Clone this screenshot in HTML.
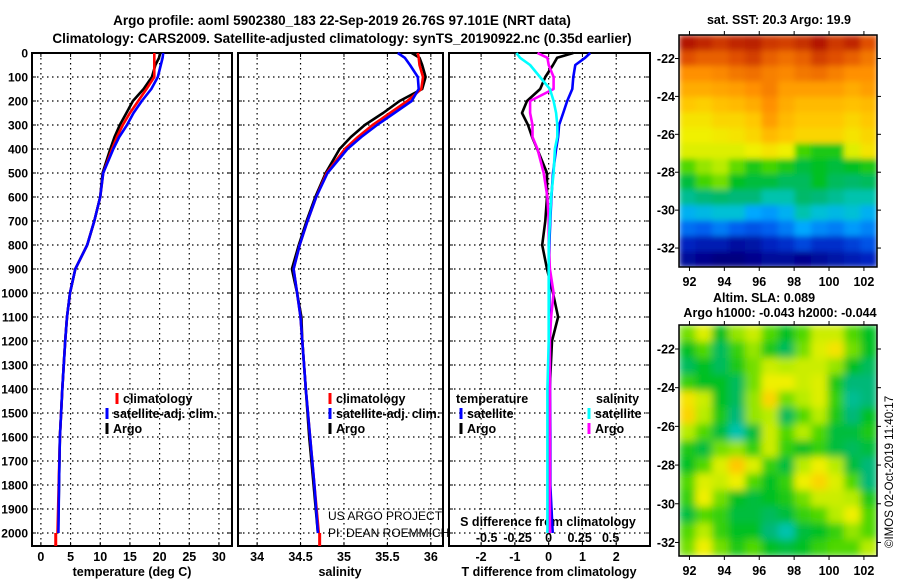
<!DOCTYPE html>
<html><head><meta charset="utf-8">
<style>
html,body{margin:0;padding:0;background:#fff;}
svg{display:block;font-family:"Liberation Sans",Arial,sans-serif;}
.b{font-weight:bold;}
</style></head>
<body>
<svg id="fig" width="900" height="580" viewBox="0 0 900 580" xmlns="http://www.w3.org/2000/svg">
<defs>
<filter id="blurT" x="0" y="0" width="1" height="1"><feGaussianBlur stdDeviation="2.8" edgeMode="duplicate"/></filter>
<filter id="blurB" x="0" y="0" width="1" height="1"><feGaussianBlur stdDeviation="4" edgeMode="duplicate"/></filter>
<clipPath id="clipT"><rect x="679" y="35" width="198" height="232"/></clipPath>
<clipPath id="clipB"><rect x="679" y="325" width="198" height="231"/></clipPath>
</defs>
<text class="b" x="342" y="25" font-size="13.5" text-anchor="middle">Argo profile: aoml 5902380_183 22-Sep-2019 26.76S 97.101E (NRT data)</text>
<text class="b" x="342" y="43" font-size="13.5" text-anchor="middle">Climatology: CARS2009. Satellite-adjusted climatology: synTS_20190922.nc (0.35d earlier)</text>
<text class="b" x="779" y="24" font-size="12.5" text-anchor="middle">sat. SST: 20.3 Argo: 19.9</text>
<text class="b" x="764" y="302" font-size="12.5" text-anchor="middle">Altim. SLA: 0.089</text>
<text class="b" x="780" y="317" font-size="12.5" text-anchor="middle">Argo h1000: -0.043 h2000: -0.044</text>
<text x="893" y="548" font-size="11.5" transform="rotate(-90 893 548)">©IMOS 02-Oct-2019 11:40:17</text>
<g id="g"></g>
</svg>
<script>
// ---- profile data ----
const depths = [0,20,50,100,150,200,250,300,350,400,500,600,700,800,900,1000,1100,1200,1400,1600,1800,2000];
const tempClim = [19.1,19.1,19.1,19.1,17.8,16.4,15.0,13.8,12.8,12.0,10.5,10.0,9.0,7.8,5.8,4.9,4.4,4.1,3.6,3.2,3.0,2.8];
const tempSat  = [20.6,20.5,20.2,19.7,18.6,17.0,15.6,14.5,13.2,12.2,10.5,10.0,9.0,7.8,5.8,4.9,4.4,4.1,3.6,3.2,3.05,2.95];
const tempArgo = [20.1,19.9,19.3,18.7,17.3,15.5,14.4,13.3,12.4,11.7,10.4,10.0,9.0,7.8,5.8,4.9,4.4,4.1,3.6,3.2,3.05,2.9];
const salClim = [35.85,35.86,35.87,35.91,35.89,35.73,35.53,35.33,35.16,35.01,34.80,34.68,34.58,34.49,34.42,34.46,34.50,34.52,34.56,34.61,34.66,34.71];
const salSat  = [35.62,35.70,35.76,35.85,35.86,35.78,35.58,35.38,35.20,35.04,34.81,34.68,34.58,34.49,34.42,34.46,34.50,34.52,34.56,34.61,34.66,34.70];
const salArgo = [35.78,35.87,35.90,35.94,35.90,35.64,35.45,35.24,35.08,34.95,34.79,34.67,34.57,34.48,34.40,34.46,34.51,34.52,34.56,34.60,34.65,34.70];
// T differences (deg C) and S differences (psu)
const dTSat  = [1.23,1.08,0.79,0.73,0.70,0.55,0.43,0.31,0.28,0.22,0.13,0.08,0.05,0.02,0.02,0.02,0.02,0.03,0.04,0.05,0.05,0.12];
const dTArgo = [0.73,0.25,0.13,-0.10,-0.25,-0.64,-0.79,-0.61,-0.49,-0.34,-0.05,-0.05,-0.10,-0.19,-0.05,0.13,0.28,0.10,0.03,0.02,0.03,0.03];
const dSSat  = [-0.26,-0.23,-0.15,-0.07,0.01,0.04,0.06,0.07,0.07,0.05,0.04,0.02,0.01,0.0,0.0,0.0,0.0,0.0,-0.01,-0.01,-0.01,-0.01];
const dSArgo = [-0.09,-0.01,0.0,0.04,0.04,-0.15,-0.15,-0.13,-0.13,-0.09,-0.04,-0.01,0.0,0.0,0.01,0.04,0.02,0.01,0.01,0.01,0.01,0.01];
const depthTicks = [0,100,200,300,400,500,600,700,800,900,1000,1100,1200,1300,1400,1500,1600,1700,1800,1900,2000];
const tempTicks = [0,5,10,15,20,25,30];
const salTicks = [34,34.5,35,35.5,36];
const salTickLabels = ["34","34.5","35","35.5","36"];
const dTTicks = [-2,-1,0,1,2];
const dSTicks = [-0.5,-0.25,0,0.25,0.5];
const dSTickLabels = ["-0.5","-0.25","0","0.25","0.5"];
// ---- map data (colour index 0..1) ----
const sstLon = [91.4,102.75], sstLat = [-20.76,-33.0];
const sstGrid = [
[.97,.95,.93,.95,.96,.93,.92,.94,.97,.93,.95,.90],
[.90,.88,.88,.90,.92,.88,.86,.88,.92,.90,.88,.85],
[.82,.82,.83,.85,.86,.84,.83,.85,.86,.84,.82,.82],
[.78,.78,.79,.80,.82,.84,.80,.80,.80,.80,.78,.80],
[.74,.73,.75,.76,.78,.82,.78,.76,.76,.76,.75,.76],
[.70,.70,.72,.72,.74,.80,.76,.74,.74,.74,.72,.74],
[.68,.68,.69,.70,.72,.76,.74,.72,.72,.72,.70,.72],
[.66,.66,.66,.66,.68,.70,.68,.55,.52,.52,.66,.70],
[.56,.60,.62,.57,.52,.55,.52,.48,.50,.48,.50,.52],
[.48,.55,.58,.50,.48,.48,.46,.46,.50,.46,.45,.46],
[.42,.44,.45,.44,.44,.40,.40,.45,.44,.42,.40,.40],
[.32,.34,.36,.36,.30,.28,.32,.40,.36,.34,.36,.32],
[.22,.20,.24,.20,.18,.20,.24,.30,.26,.24,.28,.25],
[.10,.08,.08,.05,.06,.10,.12,.16,.12,.12,.15,.18],
[.04,.02,.00,.00,.02,.04,.04,.02,.04,.06,.08,.10]];
const slaLon = [91.4,102.75], slaLat = [-20.76,-32.7];
const slaGrid = [
[.58,.66,.50,.60,.64,.56,.50,.56,.64,.64,.56,.50],
[.50,.56,.46,.54,.60,.52,.46,.58,.66,.70,.58,.50],
[.46,.50,.46,.52,.58,.64,.62,.64,.64,.60,.50,.46],
[.54,.50,.50,.46,.58,.68,.68,.64,.66,.52,.44,.44],
[.70,.64,.50,.46,.60,.72,.58,.62,.66,.54,.42,.44],
[.72,.62,.52,.44,.60,.62,.46,.56,.62,.52,.44,.50],
[.62,.56,.48,.40,.48,.64,.56,.62,.56,.48,.48,.52],
[.52,.48,.58,.60,.54,.64,.54,.50,.54,.48,.46,.48],
[.50,.56,.66,.74,.66,.54,.48,.62,.68,.62,.48,.44],
[.56,.66,.64,.68,.56,.50,.54,.68,.72,.66,.56,.44],
[.54,.68,.58,.50,.48,.50,.52,.58,.64,.64,.62,.52],
[.48,.56,.54,.48,.48,.46,.48,.54,.56,.62,.68,.56],
[.56,.62,.54,.50,.50,.44,.40,.48,.50,.54,.60,.56],
[.58,.68,.58,.52,.56,.50,.48,.50,.54,.56,.56,.62]];
const lonTicks = [92,94,96,98,100,102];
const latTicks = [-22,-24,-26,-28,-30,-32];

const NS="http://www.w3.org/2000/svg";
const G=document.getElementById('g');
function mk(tag,attrs,parent){const e=document.createElementNS(NS,tag);for(const k in attrs)e.setAttribute(k,attrs[k]);(parent||G).appendChild(e);return e;}
function txt(s,x,y,attrs,parent){const e=mk('text',Object.assign({x:x,y:y},attrs||{}),parent);e.textContent=s;return e;}

const TOP=53,BOT=546,dScale=0.24;
const yD=d=>TOP+d*dScale;
const panels=[
 {x0:32,x1:232,min:-1.5,max:32.2,name:'temperature'},
 {x0:238,x1:443,min:33.78,max:36.14,name:'salinity'},
 {x0:449,x1:650,min:-2.95,max:3.0,name:'difference'}];
function xf(p){return v=>p.x0+(v-p.min)/(p.max-p.min)*(p.x1-p.x0);}
const xT=xf(panels[0]),xS=xf(panels[1]),xDT=xf(panels[2]);
const xDS=v=>xDT(0)+v*124;

function gridAndFrame(p,xt,ticks){
 const g=mk('g',{});
 
 
 depthTicks.forEach(d=>{
  const y=yD(d);
  if(d>0){const l=mk('line',{x1:p.x0,x2:p.x1,y1:y,y2:y,stroke:'#000','stroke-width':1.2,'stroke-dasharray':'1.5,3.5'},g);
   }
  mk('line',{x1:p.x0,x2:p.x0+4,y1:y,y2:y,stroke:'#000','stroke-width':1},g);
  mk('line',{x1:p.x1-4,x2:p.x1,y1:y,y2:y,stroke:'#000','stroke-width':1},g);
 });
 ticks.forEach(v=>{
  const x=xt(v);
  const l=mk('line',{x1:x,x2:x,y1:TOP,y2:BOT,stroke:'#000','stroke-width':1.2,'stroke-dasharray':'1.5,3.5'},g);
  
  mk('line',{x1:x,x2:x,y1:BOT-4,y2:BOT,stroke:'#000'},g);
  mk('line',{x1:x,x2:x,y1:TOP,y2:TOP+4,stroke:'#000'},g);
 });
 const r=mk('rect',{x:p.x0,y:TOP,width:p.x1-p.x0,height:BOT-TOP,fill:'none',stroke:'#000','stroke-width':2},g);
 
 return g;
}
gridAndFrame(panels[0],xT,tempTicks);
gridAndFrame(panels[1],xS,salTicks);
gridAndFrame(panels[2],xDT,dTTicks);

depthTicks.forEach(d=>{
 const t=txt(String(d),28,yD(d)+4.5,{'font-size':12,'font-weight':'bold','text-anchor':'end'});
 
});
tempTicks.forEach(v=>{const t=txt(String(v),xT(v),561,{'font-size':12.5,'font-weight':'bold','text-anchor':'middle'});
 });
salTicks.forEach((v,i)=>{const t=txt(salTickLabels[i],xS(v),561,{'font-size':12.5,'font-weight':'bold','text-anchor':'middle'});
 });
dTTicks.forEach(v=>{const t=txt(String(v),xDT(v),561,{'font-size':12.5,'font-weight':'bold','text-anchor':'middle'});
 });
dSTicks.forEach((v,i)=>{const t=txt(dSTickLabels[i],xDS(v),542,{'font-size':12.5,'font-weight':'bold','text-anchor':'middle'});
 });
[[ 'temperature (deg C)',132,'temperature-axis-title'],['salinity',340,'salinity-axis-title'],['T difference from climatology',549,'t-diff-axis-title']].forEach(a=>{
 const t=txt(a[0],a[1],576,{'font-size':12.5,'font-weight':'bold','text-anchor':'middle'});
 });
{const t=txt('S difference from climatology',548,526,{'font-size':12.5,'font-weight':'bold','text-anchor':'middle'});
 }

function series(vals,xt,color,name,w){
 const pts=vals.map((v,i)=>xt(v).toFixed(1)+','+yD(depths[i]).toFixed(1)).join(' ');
 const l=mk('polyline',{points:pts,fill:'none',stroke:color,'stroke-width':w||2.6,'stroke-linejoin':'round'});
 
 
}
series(tempArgo,xT,'#000','argo-temperature-line');
series(tempClim,xT,'#f00','climatology-temperature-line');
series(tempSat,xT,'#00f','satellite-temperature-line');
{const l=mk('line',{x1:xT(2.5),x2:xT(2.5),y1:yD(2000),y2:BOT,stroke:'#f00','stroke-width':3});
 }
series(salArgo,xS,'#000','argo-salinity-line');
series(salClim,xS,'#f00','climatology-salinity-line');
series(salSat,xS,'#00f','satellite-salinity-line');
{const l=mk('line',{x1:xS(34.72),x2:xS(34.72),y1:yD(2000),y2:BOT,stroke:'#f00','stroke-width':3});
 }
series(dTArgo,xDT,'#000','argo-t-diff-line');
series(dTSat,xDT,'#00f','satellite-t-diff-line');
series(dSArgo,xDS,'#f0f','argo-s-diff-line');
series(dSSat,xDS,'#0ff','satellite-s-diff-line');

function legendEntry(mx,tx,y,color,label){
 const g=mk('g',{});
 
 
 mk('line',{x1:mx,x2:mx,y1:y-10,y2:y+1,stroke:color,'stroke-width':3},g);
 txt(label,tx,y,{'font-size':12.5,'font-weight':'bold'},g);
}
legendEntry(117,123,403,'#f00','climatology');
legendEntry(107,113,418,'#00f','satellite-adj. clim.');
legendEntry(107,113,433,'#000','Argo');
legendEntry(330,336,403,'#f00','climatology');
legendEntry(330,336,418,'#00f','satellite-adj. clim.');
legendEntry(330,336,433,'#000','Argo');
{const t=txt('temperature',456,403,{'font-size':12.5,'font-weight':'bold'});}
{const t=txt('salinity',596,403,{'font-size':12.5,'font-weight':'bold'});}
legendEntry(461,467,418,'#00f','satellite');
legendEntry(461,467,433,'#000','Argo');
legendEntry(589,595,418,'#0ff','satellite');
legendEntry(589,595,433,'#f0f','Argo');
{const t=txt('US ARGO PROJECT',328,520,{'font-size':12});}
{const t=txt('PI: DEAN ROEMMICH',328,537,{'font-size':12});}

const stops=[[0,[0,0,128]],[.1,[0,32,192]],[.2,[0,96,240]],[.3,[0,168,255]],[.38,[0,200,200]],[.44,[0,184,120]],[.5,[0,192,32]],[.56,[80,216,0]],[.62,[184,236,0]],[.68,[240,240,0]],[.74,[255,200,0]],[.82,[255,144,0]],[.9,[224,80,0]],[1,[160,0,0]]];
function cmap(v){v=Math.max(0,Math.min(1,v));for(let i=1;i<stops.length;i++){if(v<=stops[i][0]){const a=stops[i-1],b=stops[i],t=(v-a[0])/(b[0]-a[0]);const c=a[1].map((q,k)=>Math.round(q+(b[1][k]-q)*t));return 'rgb('+c.join(',')+')';}}return 'rgb(160,0,0)';}

function drawMap(grid,lon,lat,box,filt,clip,name){
 const x0=box[0],y0=box[1],w=box[2],h=box[3];
 const xl=v=>x0+(v-lon[0])/(lon[1]-lon[0])*w;
 const yl=v=>y0+(v-lat[0])/(lat[1]-lat[0])*h;
 const outer=mk('g',{'clip-path':'url(#'+clip+')'});
 
 
 const g=mk('g',{filter:'url(#'+filt+')'},outer);
 const nr=grid.length,nc=grid[0].length,cw=w/nc,ch=h/nr;
 mk('rect',{x:x0,y:y0,width:w,height:h,fill:cmap(grid[0][0])},g);
 grid.forEach((row,r)=>row.forEach((v,c)=>{
  const cell=mk('rect',{x:(x0+c*cw).toFixed(2),y:(y0+r*ch).toFixed(2),width:(cw+0.6).toFixed(2),height:(ch+0.6).toFixed(2),fill:cmap(v)},g);
  
  
 }));
 mk('rect',{x:x0,y:y0,width:w,height:h,fill:'none',stroke:'#000','stroke-width':1.5});
 lonTicks.forEach(v=>{const x=xl(v);
  mk('line',{x1:x,x2:x,y1:y0+h,y2:y0+h+4,stroke:'#000'});
  mk('line',{x1:x,x2:x,y1:y0-4,y2:y0,stroke:'#000'});
  const t=txt(String(v),x,y0+h+19,{'font-size':12.5,'font-weight':'bold','text-anchor':'middle'});
  });
 latTicks.forEach(v=>{const y=yl(v);
  mk('line',{x1:x0-4,x2:x0,y1:y,y2:y,stroke:'#000'});
  mk('line',{x1:x0+w,x2:x0+w+4,y1:y,y2:y,stroke:'#000'});
  const t=txt(String(v),x0-4,y+4.5,{'font-size':12.5,'font-weight':'bold','text-anchor':'end'});
  });
}
drawMap(sstGrid,sstLon,sstLat,[679,35,198,232],'blurT','clipT','sst-map');
drawMap(slaGrid,slaLon,slaLat,[679,325,198,231],'blurB','clipB','sla-map');
</script>
</body></html>
